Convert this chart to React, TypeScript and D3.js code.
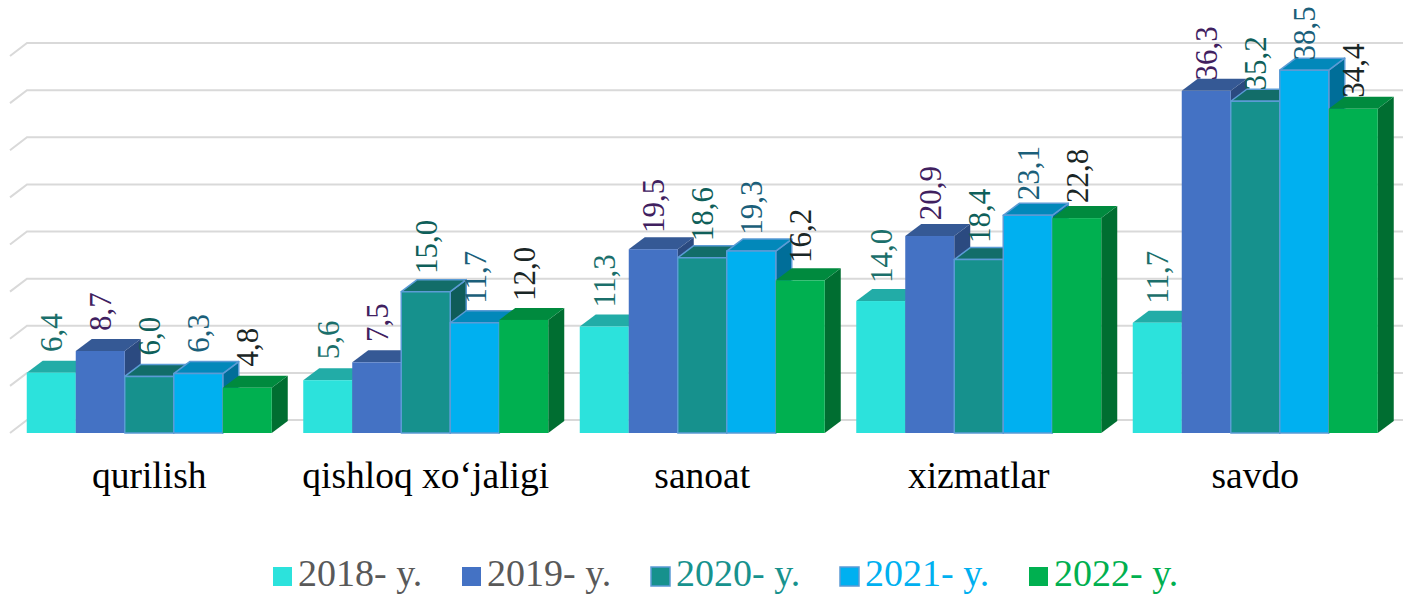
import * as d3 from 'd3';

// data
const categories = ['qurilish', 'qishloq xo‘jaligi', 'sanoat', 'xizmatlar', 'savdo'];
const years = ['2018- y.', '2019- y.', '2020- y.', '2021- y.', '2022- y.'];
const v2018 = [6.4, 5.6, 11.3, 14.0, 11.7];
const v2019 = [8.7, 7.5, 19.5, 20.9, 36.3];
const v2020 = [6.0, 15.0, 18.6, 18.4, 35.2];
const v2021 = [6.3, 11.7, 19.3, 23.1, 38.5];
const v2022 = [4.8, 12.0, 16.2, 22.8, 34.4];
const yTicks = [0, 5, 10, 15, 20, 25, 30, 35, 40];

const seriesValues = [v2018, v2019, v2020, v2021, v2022];

// face colours: front, top, side, border, label, legend text
const styles = [
  { front: '#2ce2dc', top: '#22aca7', side: '#1c9a96', border: null, label: '#1b6f6b', legend: '#595959' },
  { front: '#4472c4', top: '#355995', side: '#2b4a80', border: null, label: '#40205f', legend: '#595959' },
  { front: '#16918d', top: '#126d69', side: '#0f5c59', border: '#5b9bd5', label: '#0f5f5a', legend: '#17928e' },
  { front: '#00b0f0', top: '#0288ba', side: '#006e99', border: '#5b9bd5', label: '#1b5f7a', legend: '#00b0f0' },
  { front: '#00b050', top: '#008a3e', side: '#006e31', border: null, label: '#1a2626', legend: '#00b050' },
];

const W = 1403;
const H = 594;
const FONT = 'Liberation Serif, Tinos, Times New Roman, DejaVu Serif, serif';
const depthX = 16;
const depthY = -12;
const wallX = 17;
const wallY = -13;

const fmt = (v: number) => d3.format('.1f')(v).replace('.', ',');

export default function App() {
  const x0 = d3.scaleBand<string>().domain(categories).range([11, 1393.5]).padding(0);
  const x1 = d3.scaleBand<string>().domain(years).range([15.75, x0.bandwidth() - 15.75]).padding(0);
  const y = d3.scaleLinear().domain([0, 40]).range([433, 56]);
  const w = x1.bandwidth();
  const y0 = y(0);

  const pts = (p: number[][]) => p.map((d) => d.join(',')).join(' ');

  return (
    <svg width={W} height={H} style={{ position: 'absolute', left: 0, top: 0, background: '#fff', fontFamily: FONT }}>
      {/* back wall grid lines */}
      <g>
        {yTicks.map((t) => (
          <path
            key={t}
            d={`M10,${y(t)} L${10 + wallX},${y(t) + wallY} L${W},${y(t) + wallY}`}
            fill="none"
            stroke="#d9d9d9"
            strokeWidth={2}
          />
        ))}
      </g>

      {/* 3d bars */}
      {categories.map((cat, ci) => (
        <g key={cat}>
          {years.map((yr, si) => {
            const v = seriesValues[si][ci];
            const s = styles[si];
            const x = (x0(cat) ?? 0) + (x1(yr) ?? 0);
            const yt = y(v);
            const stroke = s.border ?? 'none';
            return (
              <g key={yr} stroke={stroke} strokeWidth={s.border ? 1.5 : 0} strokeLinejoin="round">
                <polygon
                  points={pts([[x + w, yt], [x + w + depthX, yt + depthY], [x + w + depthX, y0 + depthY], [x + w, y0]])}
                  fill={s.side}
                />
                <polygon
                  points={pts([[x, yt], [x + depthX, yt + depthY], [x + w + depthX, yt + depthY], [x + w, yt]])}
                  fill={s.top}
                />
                <rect x={x} y={yt} width={w} height={y0 - yt} fill={s.front} />
              </g>
            );
          })}
        </g>
      ))}

      {/* value labels */}
      {categories.map((cat, ci) => (
        <g key={cat + '-labels'}>
          {years.map((yr, si) => {
            const v = seriesValues[si][ci];
            const cx = (x0(cat) ?? 0) + (x1(yr) ?? 0) + w / 2;
            const gap = 23 - 0.35 * v;
            return (
              <text
                key={yr}
                transform={`translate(${cx},${y(v) - gap}) rotate(-90)`}
                dy="0.35em"
                fontSize={31}
                fill={styles[si].label}
                textAnchor="start"
              >
                {fmt(v)}
              </text>
            );
          })}
        </g>
      ))}

      {/* category labels */}
      {categories.map((cat) => (
        <text
          key={cat + '-axis'}
          x={(x0(cat) ?? 0) + x0.bandwidth() / 2}
          y={488}
          textAnchor="middle"
          fontSize={37.5}
          fill="#000"
        >
          {cat}
        </text>
      ))}

      {/* legend */}
      <g>
        {years.map((yr, i) => {
          const lx = 273 + i * 189;
          return (
            <g key={yr + '-legend'}>
              <rect
                x={lx}
                y={567}
                width={19}
                height={19}
                fill={styles[i].front}
                stroke={styles[i].border ?? 'none'}
                strokeWidth={styles[i].border ? 1.5 : 0}
              />
              <text x={lx + 25} y={586} fontSize={38} fill={styles[i].legend}>
                {yr}
              </text>
            </g>
          );
        })}
      </g>
    </svg>
  );
}
